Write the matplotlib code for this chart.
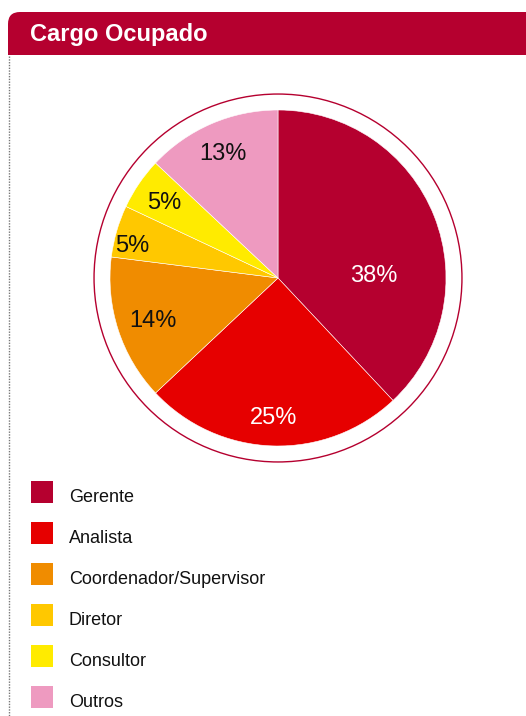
import numpy as np
import matplotlib.pyplot as plt
from matplotlib.patches import Rectangle, Circle, FancyBboxPatch

# ── data ─────────────────────────────────────────────────────────────────────
TITLE      = 'Cargo Ocupado'
categories = ['Gerente', 'Analista', 'Coordenador/Supervisor', 'Diretor', 'Consultor', 'Outros']
values     = [38, 25, 14, 5, 5, 13]
colors     = ['#B5002F', '#E60000', '#F08C00', '#FFC800', '#FFEB00', '#EE9AC0']
txt_colors = ['white', 'white', '#111111', '#111111', '#111111', '#111111']
# ─────────────────────────────────────────────────────────────────────────────

FONT = ['Liberation Sans', 'DejaVu Sans']
plt.rcParams['font.family'] = FONT

W, H = 526, 716
fig = plt.figure(figsize=(W / 100, H / 100), dpi=100)

# overlay axes in pixel coords (y down)
bg = fig.add_axes([0, 0, 1, 1])
bg.set_xlim(0, W); bg.set_ylim(H, 0); bg.axis('off')

# header bar
bg.add_patch(FancyBboxPatch((8, 12), W - 8 + 20, 60, boxstyle='round,pad=0,rounding_size=12',
                            fc='#B5002F', ec='none'))
bg.add_patch(Rectangle((0, 55), W, 40, fc='white', ec='none'))
bg.text(30, 41, TITLE, color='white', fontsize=17, fontweight='bold', va='baseline', ha='left')
# dotted left border
bg.plot([9, 9], [56, H], color='#777777', lw=1, ls=(0, (1, 1)))

# legend
for i, (lab, c) in enumerate(zip(categories, colors)):
    y0 = 481 + i * 41
    bg.add_patch(Rectangle((31, y0), 22, 22, fc=c, ec='none'))
    bg.text(69, y0 + 21, lab, fontsize=13, color='#111111', va='baseline', ha='left')

# pie
R_PX = 168
CX, CY = 278, 278
half = 1.2
ax = fig.add_axes([(CX - half * R_PX) / W, (H - CY - half * R_PX) / H,
                   2 * half * R_PX / W, 2 * half * R_PX / H])
wedges, _ = ax.pie(values, colors=colors, startangle=90, counterclock=False, radius=1,
                   wedgeprops=dict(linewidth=0.4, edgecolor='white'))
ax.add_patch(Circle((0, 0), 1.095, fill=False, ec='#B5002F', lw=1))
ax.set_xlim(-half, half); ax.set_ylim(-half, half); ax.set_aspect('equal'); ax.axis('off')

r_fac = [0.57, 0.82, 0.78, 0.89, 0.82, 0.82]
a_off = [-19, 0, 0, 3, 0, 0]
for w, v, tc, rf, ao in zip(wedges, values, txt_colors, r_fac, a_off):
    ang = np.deg2rad((w.theta1 + w.theta2) / 2 + ao)
    ax.text(rf * np.cos(ang), rf * np.sin(ang), f'{v}%', color=tc, fontsize=17,
            ha='center', va='center_baseline')

fig.savefig('out.png', dpi=100)
